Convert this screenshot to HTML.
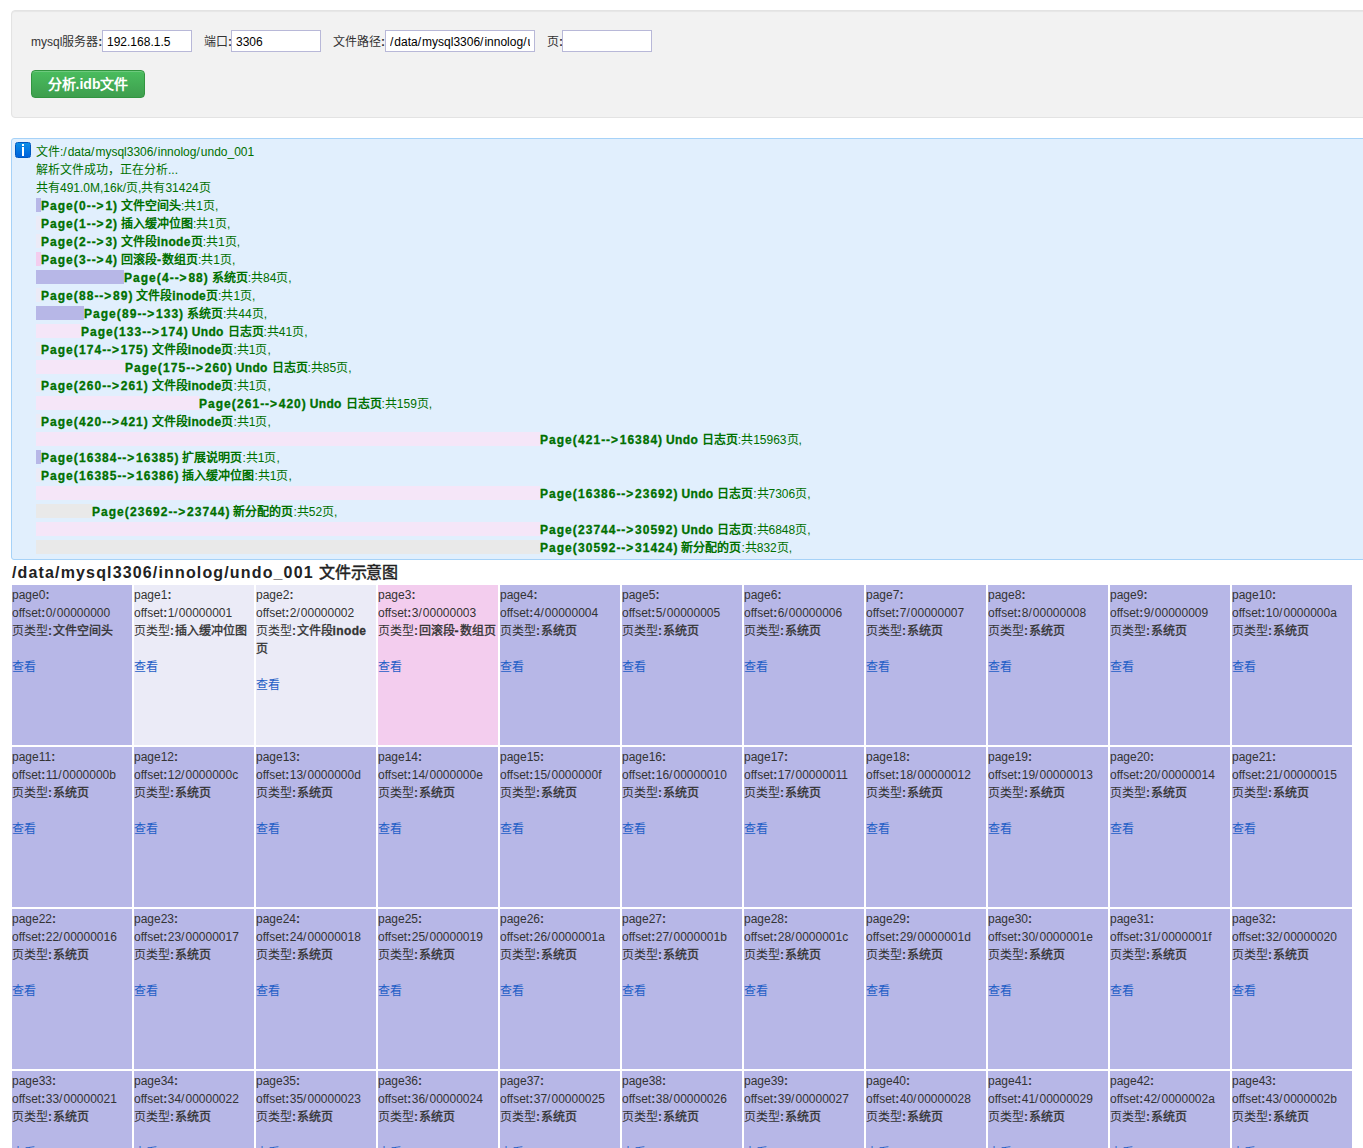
<!DOCTYPE html>
<html lang="zh-CN"><head><meta charset="utf-8"><title>idb</title>
<style>
*{box-sizing:border-box}
html,body{margin:0;padding:0}
body{width:1363px;height:1148px;overflow:hidden;position:relative;background:#fff;
 font-family:"Liberation Sans",sans-serif;font-size:12px;color:#333}
.well{position:absolute;left:11px;top:10px;width:1400px;height:108px;background:#f2f2f2;
 border:1px solid #e3e3e3;border-radius:4px;box-shadow:inset 0 1px 1px rgba(0,0,0,.05)}
.lab{position:absolute;top:35px;line-height:14px;white-space:nowrap;color:#333}
.inp{position:absolute;top:30px;height:22px;background:#fff;border:1px solid #b8b8d8;
 padding:1px 4px 0;line-height:20px;font-size:12px;color:#000;white-space:nowrap;overflow:hidden}
.btn{position:absolute;left:31px;top:70px;width:114px;height:28px;border-radius:4px;
 background:linear-gradient(#4abd5e,#3e9e4e);border:1px solid #329540;color:#fff;font-weight:bold;
 font-size:14px;line-height:26px;text-align:center;box-shadow:inset 0 1px 0 rgba(255,255,255,.2)}
.info{position:absolute;left:11px;top:138px;width:1400px;height:422px;background:#e1effd;
 border:1px solid #a6d2f8;border-radius:3px;color:#007000}
.icon{position:absolute;left:3px;top:3px;width:16px;height:16px;border-radius:2.5px;
 background:linear-gradient(#0b8ee6,#0062dc);border:1px solid #0058c0}
.icon:before{content:"";position:absolute;left:6px;top:1px;width:2px;height:2px;background:#fff}
.icon:after{content:"";position:absolute;left:6px;top:4px;width:2px;height:9px;background:#fff}
.txt{position:absolute;left:24px;top:4px;white-space:nowrap}
.l,.t{height:18px;line-height:18px}
.l i{display:inline-block;height:14px;vertical-align:top;margin-top:1px}
b{font-weight:700}
.n,.p,.pc,.h,.g,.a,.u,.sp{font-weight:700;-webkit-text-stroke:.3px}
.n{letter-spacing:1px}.p{letter-spacing:1.4px}.h{letter-spacing:.9px}.g{letter-spacing:1.8px}.t s,.inp s{text-decoration:none;letter-spacing:1px}
.a{letter-spacing:1px}.u{letter-spacing:.35px}.pc{letter-spacing:.3px}.sp{letter-spacing:.3px}
h3 .w{letter-spacing:1.15px}
h3 .hz{font-weight:400;-webkit-text-stroke:.45px;letter-spacing:-.3px}
h3{position:absolute;left:12px;top:560px;margin:0;font-size:16px;line-height:25px;font-weight:bold;color:#222;white-space:nowrap}
.c{position:absolute;width:120px;height:160px;padding-top:1px;line-height:18px;white-space:nowrap;color:#333;overflow:hidden}
.c s{text-decoration:none;letter-spacing:1px}.lab .k{text-decoration:none;font-weight:700}.c .k{letter-spacing:.6px;font-weight:700}
.c b{font-weight:400;-webkit-text-stroke:.35px}
.c a{color:#1e5ec6}
</style></head><body>
<div class="well"></div>
<div class="lab" style="left:31px">mysql服务器<s class="k">:</s></div>
<div class="inp" style="left:102px;width:90px">192.168.1.5</div>
<div class="lab" style="left:204px">端口<s class="k">:</s></div>
<div class="inp" style="left:231px;width:90px">3306</div>
<div class="lab" style="left:333px">文件路径<s class="k">:</s></div>
<div class="inp" style="left:385px;width:150px"><div style="width:140px;overflow:hidden"><s>/</s>data<s>/</s>mysql3306<s>/</s>innolog<s>/</s>undo_001</div></div>
<div class="lab" style="left:547px">页<s class="k">:</s></div>
<div class="inp" style="left:562px;width:90px"></div>
<div class="btn">分析.idb文件</div>
<div class="info"><div class="icon"></div><div class="txt">
<div class="t">文件:<s>/</s>data<s>/</s>mysql3306<s>/</s>innolog<s>/</s>undo_001</div>
<div class="t">解析文件成功，正在分析...</div>
<div class="t">共有491.0M,16k/页,共有31424页</div>
<div class="l"><i style="width:5px;background:#b7b7e7"></i><b><span class="a">Page</span><span class="p">(</span><span class="n">0</span><span class="h">--</span><span class="g">&gt;</span><span class="n">1</span><span class="pc">)</span><span class="sp"> </span>文件空间头</b>:共1页,</div><div class="l"><i style="width:5px;background:#ebebf7"></i><b><span class="a">Page</span><span class="p">(</span><span class="n">1</span><span class="h">--</span><span class="g">&gt;</span><span class="n">2</span><span class="pc">)</span><span class="sp"> </span>插入缓冲位图</b>:共1页,</div><div class="l"><i style="width:5px;background:#ebebf7"></i><b><span class="a">Page</span><span class="p">(</span><span class="n">2</span><span class="h">--</span><span class="g">&gt;</span><span class="n">3</span><span class="pc">)</span><span class="sp"> </span>文件段<span class="u">inode</span>页</b>:共1页,</div><div class="l"><i style="width:5px;background:#f3cdee"></i><b><span class="a">Page</span><span class="p">(</span><span class="n">3</span><span class="h">--</span><span class="g">&gt;</span><span class="n">4</span><span class="pc">)</span><span class="sp"> </span>回滚段<span class="h">-</span>数组页</b>:共1页,</div><div class="l"><i style="width:88px;background:#b7b7e7"></i><b><span class="a">Page</span><span class="p">(</span><span class="n">4</span><span class="h">--</span><span class="g">&gt;</span><span class="n">88</span><span class="pc">)</span><span class="sp"> </span>系统页</b>:共84页,</div><div class="l"><i style="width:5px;background:#ebebf7"></i><b><span class="a">Page</span><span class="p">(</span><span class="n">88</span><span class="h">--</span><span class="g">&gt;</span><span class="n">89</span><span class="pc">)</span><span class="sp"> </span>文件段<span class="u">inode</span>页</b>:共1页,</div><div class="l"><i style="width:48px;background:#b7b7e7"></i><b><span class="a">Page</span><span class="p">(</span><span class="n">89</span><span class="h">--</span><span class="g">&gt;</span><span class="n">133</span><span class="pc">)</span><span class="sp"> </span>系统页</b>:共44页,</div><div class="l"><i style="width:45px;background:#f5e6f8"></i><b><span class="a">Page</span><span class="p">(</span><span class="n">133</span><span class="h">--</span><span class="g">&gt;</span><span class="n">174</span><span class="pc">)</span><span class="u"> Undo </span>日志页</b>:共41页,</div><div class="l"><i style="width:5px;background:#ebebf7"></i><b><span class="a">Page</span><span class="p">(</span><span class="n">174</span><span class="h">--</span><span class="g">&gt;</span><span class="n">175</span><span class="pc">)</span><span class="sp"> </span>文件段<span class="u">inode</span>页</b>:共1页,</div><div class="l"><i style="width:89px;background:#f5e6f8"></i><b><span class="a">Page</span><span class="p">(</span><span class="n">175</span><span class="h">--</span><span class="g">&gt;</span><span class="n">260</span><span class="pc">)</span><span class="u"> Undo </span>日志页</b>:共85页,</div><div class="l"><i style="width:5px;background:#ebebf7"></i><b><span class="a">Page</span><span class="p">(</span><span class="n">260</span><span class="h">--</span><span class="g">&gt;</span><span class="n">261</span><span class="pc">)</span><span class="sp"> </span>文件段<span class="u">inode</span>页</b>:共1页,</div><div class="l"><i style="width:163px;background:#f5e6f8"></i><b><span class="a">Page</span><span class="p">(</span><span class="n">261</span><span class="h">--</span><span class="g">&gt;</span><span class="n">420</span><span class="pc">)</span><span class="u"> Undo </span>日志页</b>:共159页,</div><div class="l"><i style="width:5px;background:#ebebf7"></i><b><span class="a">Page</span><span class="p">(</span><span class="n">420</span><span class="h">--</span><span class="g">&gt;</span><span class="n">421</span><span class="pc">)</span><span class="sp"> </span>文件段<span class="u">inode</span>页</b>:共1页,</div><div class="l"><i style="width:504px;background:#f5e6f8"></i><b><span class="a">Page</span><span class="p">(</span><span class="n">421</span><span class="h">--</span><span class="g">&gt;</span><span class="n">16384</span><span class="pc">)</span><span class="u"> Undo </span>日志页</b>:共15963页,</div><div class="l"><i style="width:5px;background:#b7b7e7"></i><b><span class="a">Page</span><span class="p">(</span><span class="n">16384</span><span class="h">--</span><span class="g">&gt;</span><span class="n">16385</span><span class="pc">)</span><span class="sp"> </span>扩展说明页</b>:共1页,</div><div class="l"><i style="width:5px;background:#ebebf7"></i><b><span class="a">Page</span><span class="p">(</span><span class="n">16385</span><span class="h">--</span><span class="g">&gt;</span><span class="n">16386</span><span class="pc">)</span><span class="sp"> </span>插入缓冲位图</b>:共1页,</div><div class="l"><i style="width:504px;background:#f5e6f8"></i><b><span class="a">Page</span><span class="p">(</span><span class="n">16386</span><span class="h">--</span><span class="g">&gt;</span><span class="n">23692</span><span class="pc">)</span><span class="u"> Undo </span>日志页</b>:共7306页,</div><div class="l"><i style="width:56px;background:#e9e9e9"></i><b><span class="a">Page</span><span class="p">(</span><span class="n">23692</span><span class="h">--</span><span class="g">&gt;</span><span class="n">23744</span><span class="pc">)</span><span class="sp"> </span>新分配的页</b>:共52页,</div><div class="l"><i style="width:504px;background:#f5e6f8"></i><b><span class="a">Page</span><span class="p">(</span><span class="n">23744</span><span class="h">--</span><span class="g">&gt;</span><span class="n">30592</span><span class="pc">)</span><span class="u"> Undo </span>日志页</b>:共6848页,</div><div class="l"><i style="width:504px;background:#e9e9e9"></i><b><span class="a">Page</span><span class="p">(</span><span class="n">30592</span><span class="h">--</span><span class="g">&gt;</span><span class="n">31424</span><span class="pc">)</span><span class="sp"> </span>新分配的页</b>:共832页,</div>
</div></div>
<h3><span class="w">/data/mysql3306/innolog/undo_001 </span><span class="hz">文件示意图</span></h3>
<div class="c" style="left:12px;top:585px;background:#b7b7e7">page0<s class="k">:</s><br>offset<s class="k">:</s>0<s>/</s>00000000<br>页类型<s class="k">:</s><b>文件空间头</b><br><br><a>查看</a></div><div class="c" style="left:134px;top:585px;background:#ebebf7">page1<s class="k">:</s><br>offset<s class="k">:</s>1<s>/</s>00000001<br>页类型<s class="k">:</s><b>插入缓冲位图</b><br><br><a>查看</a></div><div class="c" style="left:256px;top:585px;background:#ebebf7">page2<s class="k">:</s><br>offset<s class="k">:</s>2<s>/</s>00000002<br>页类型<s class="k">:</s><b>文件段<span class="u">inode</span><br>页</b><br><br><a>查看</a></div><div class="c" style="left:378px;top:585px;background:#f3cdee">page3<s class="k">:</s><br>offset<s class="k">:</s>3<s>/</s>00000003<br>页类型<s class="k">:</s><b>回滚段<span class="h">-</span>数组页</b><br><br><a>查看</a></div><div class="c" style="left:500px;top:585px;background:#b7b7e7">page4<s class="k">:</s><br>offset<s class="k">:</s>4<s>/</s>00000004<br>页类型<s class="k">:</s><b>系统页</b><br><br><a>查看</a></div><div class="c" style="left:622px;top:585px;background:#b7b7e7">page5<s class="k">:</s><br>offset<s class="k">:</s>5<s>/</s>00000005<br>页类型<s class="k">:</s><b>系统页</b><br><br><a>查看</a></div><div class="c" style="left:744px;top:585px;background:#b7b7e7">page6<s class="k">:</s><br>offset<s class="k">:</s>6<s>/</s>00000006<br>页类型<s class="k">:</s><b>系统页</b><br><br><a>查看</a></div><div class="c" style="left:866px;top:585px;background:#b7b7e7">page7<s class="k">:</s><br>offset<s class="k">:</s>7<s>/</s>00000007<br>页类型<s class="k">:</s><b>系统页</b><br><br><a>查看</a></div><div class="c" style="left:988px;top:585px;background:#b7b7e7">page8<s class="k">:</s><br>offset<s class="k">:</s>8<s>/</s>00000008<br>页类型<s class="k">:</s><b>系统页</b><br><br><a>查看</a></div><div class="c" style="left:1110px;top:585px;background:#b7b7e7">page9<s class="k">:</s><br>offset<s class="k">:</s>9<s>/</s>00000009<br>页类型<s class="k">:</s><b>系统页</b><br><br><a>查看</a></div><div class="c" style="left:1232px;top:585px;background:#b7b7e7">page10<s class="k">:</s><br>offset<s class="k">:</s>10<s>/</s>0000000a<br>页类型<s class="k">:</s><b>系统页</b><br><br><a>查看</a></div><div class="c" style="left:12px;top:747px;background:#b7b7e7">page11<s class="k">:</s><br>offset<s class="k">:</s>11<s>/</s>0000000b<br>页类型<s class="k">:</s><b>系统页</b><br><br><a>查看</a></div><div class="c" style="left:134px;top:747px;background:#b7b7e7">page12<s class="k">:</s><br>offset<s class="k">:</s>12<s>/</s>0000000c<br>页类型<s class="k">:</s><b>系统页</b><br><br><a>查看</a></div><div class="c" style="left:256px;top:747px;background:#b7b7e7">page13<s class="k">:</s><br>offset<s class="k">:</s>13<s>/</s>0000000d<br>页类型<s class="k">:</s><b>系统页</b><br><br><a>查看</a></div><div class="c" style="left:378px;top:747px;background:#b7b7e7">page14<s class="k">:</s><br>offset<s class="k">:</s>14<s>/</s>0000000e<br>页类型<s class="k">:</s><b>系统页</b><br><br><a>查看</a></div><div class="c" style="left:500px;top:747px;background:#b7b7e7">page15<s class="k">:</s><br>offset<s class="k">:</s>15<s>/</s>0000000f<br>页类型<s class="k">:</s><b>系统页</b><br><br><a>查看</a></div><div class="c" style="left:622px;top:747px;background:#b7b7e7">page16<s class="k">:</s><br>offset<s class="k">:</s>16<s>/</s>00000010<br>页类型<s class="k">:</s><b>系统页</b><br><br><a>查看</a></div><div class="c" style="left:744px;top:747px;background:#b7b7e7">page17<s class="k">:</s><br>offset<s class="k">:</s>17<s>/</s>00000011<br>页类型<s class="k">:</s><b>系统页</b><br><br><a>查看</a></div><div class="c" style="left:866px;top:747px;background:#b7b7e7">page18<s class="k">:</s><br>offset<s class="k">:</s>18<s>/</s>00000012<br>页类型<s class="k">:</s><b>系统页</b><br><br><a>查看</a></div><div class="c" style="left:988px;top:747px;background:#b7b7e7">page19<s class="k">:</s><br>offset<s class="k">:</s>19<s>/</s>00000013<br>页类型<s class="k">:</s><b>系统页</b><br><br><a>查看</a></div><div class="c" style="left:1110px;top:747px;background:#b7b7e7">page20<s class="k">:</s><br>offset<s class="k">:</s>20<s>/</s>00000014<br>页类型<s class="k">:</s><b>系统页</b><br><br><a>查看</a></div><div class="c" style="left:1232px;top:747px;background:#b7b7e7">page21<s class="k">:</s><br>offset<s class="k">:</s>21<s>/</s>00000015<br>页类型<s class="k">:</s><b>系统页</b><br><br><a>查看</a></div><div class="c" style="left:12px;top:909px;background:#b7b7e7">page22<s class="k">:</s><br>offset<s class="k">:</s>22<s>/</s>00000016<br>页类型<s class="k">:</s><b>系统页</b><br><br><a>查看</a></div><div class="c" style="left:134px;top:909px;background:#b7b7e7">page23<s class="k">:</s><br>offset<s class="k">:</s>23<s>/</s>00000017<br>页类型<s class="k">:</s><b>系统页</b><br><br><a>查看</a></div><div class="c" style="left:256px;top:909px;background:#b7b7e7">page24<s class="k">:</s><br>offset<s class="k">:</s>24<s>/</s>00000018<br>页类型<s class="k">:</s><b>系统页</b><br><br><a>查看</a></div><div class="c" style="left:378px;top:909px;background:#b7b7e7">page25<s class="k">:</s><br>offset<s class="k">:</s>25<s>/</s>00000019<br>页类型<s class="k">:</s><b>系统页</b><br><br><a>查看</a></div><div class="c" style="left:500px;top:909px;background:#b7b7e7">page26<s class="k">:</s><br>offset<s class="k">:</s>26<s>/</s>0000001a<br>页类型<s class="k">:</s><b>系统页</b><br><br><a>查看</a></div><div class="c" style="left:622px;top:909px;background:#b7b7e7">page27<s class="k">:</s><br>offset<s class="k">:</s>27<s>/</s>0000001b<br>页类型<s class="k">:</s><b>系统页</b><br><br><a>查看</a></div><div class="c" style="left:744px;top:909px;background:#b7b7e7">page28<s class="k">:</s><br>offset<s class="k">:</s>28<s>/</s>0000001c<br>页类型<s class="k">:</s><b>系统页</b><br><br><a>查看</a></div><div class="c" style="left:866px;top:909px;background:#b7b7e7">page29<s class="k">:</s><br>offset<s class="k">:</s>29<s>/</s>0000001d<br>页类型<s class="k">:</s><b>系统页</b><br><br><a>查看</a></div><div class="c" style="left:988px;top:909px;background:#b7b7e7">page30<s class="k">:</s><br>offset<s class="k">:</s>30<s>/</s>0000001e<br>页类型<s class="k">:</s><b>系统页</b><br><br><a>查看</a></div><div class="c" style="left:1110px;top:909px;background:#b7b7e7">page31<s class="k">:</s><br>offset<s class="k">:</s>31<s>/</s>0000001f<br>页类型<s class="k">:</s><b>系统页</b><br><br><a>查看</a></div><div class="c" style="left:1232px;top:909px;background:#b7b7e7">page32<s class="k">:</s><br>offset<s class="k">:</s>32<s>/</s>00000020<br>页类型<s class="k">:</s><b>系统页</b><br><br><a>查看</a></div><div class="c" style="left:12px;top:1071px;background:#b7b7e7">page33<s class="k">:</s><br>offset<s class="k">:</s>33<s>/</s>00000021<br>页类型<s class="k">:</s><b>系统页</b><br><br><a>查看</a></div><div class="c" style="left:134px;top:1071px;background:#b7b7e7">page34<s class="k">:</s><br>offset<s class="k">:</s>34<s>/</s>00000022<br>页类型<s class="k">:</s><b>系统页</b><br><br><a>查看</a></div><div class="c" style="left:256px;top:1071px;background:#b7b7e7">page35<s class="k">:</s><br>offset<s class="k">:</s>35<s>/</s>00000023<br>页类型<s class="k">:</s><b>系统页</b><br><br><a>查看</a></div><div class="c" style="left:378px;top:1071px;background:#b7b7e7">page36<s class="k">:</s><br>offset<s class="k">:</s>36<s>/</s>00000024<br>页类型<s class="k">:</s><b>系统页</b><br><br><a>查看</a></div><div class="c" style="left:500px;top:1071px;background:#b7b7e7">page37<s class="k">:</s><br>offset<s class="k">:</s>37<s>/</s>00000025<br>页类型<s class="k">:</s><b>系统页</b><br><br><a>查看</a></div><div class="c" style="left:622px;top:1071px;background:#b7b7e7">page38<s class="k">:</s><br>offset<s class="k">:</s>38<s>/</s>00000026<br>页类型<s class="k">:</s><b>系统页</b><br><br><a>查看</a></div><div class="c" style="left:744px;top:1071px;background:#b7b7e7">page39<s class="k">:</s><br>offset<s class="k">:</s>39<s>/</s>00000027<br>页类型<s class="k">:</s><b>系统页</b><br><br><a>查看</a></div><div class="c" style="left:866px;top:1071px;background:#b7b7e7">page40<s class="k">:</s><br>offset<s class="k">:</s>40<s>/</s>00000028<br>页类型<s class="k">:</s><b>系统页</b><br><br><a>查看</a></div><div class="c" style="left:988px;top:1071px;background:#b7b7e7">page41<s class="k">:</s><br>offset<s class="k">:</s>41<s>/</s>00000029<br>页类型<s class="k">:</s><b>系统页</b><br><br><a>查看</a></div><div class="c" style="left:1110px;top:1071px;background:#b7b7e7">page42<s class="k">:</s><br>offset<s class="k">:</s>42<s>/</s>0000002a<br>页类型<s class="k">:</s><b>系统页</b><br><br><a>查看</a></div><div class="c" style="left:1232px;top:1071px;background:#b7b7e7">page43<s class="k">:</s><br>offset<s class="k">:</s>43<s>/</s>0000002b<br>页类型<s class="k">:</s><b>系统页</b><br><br><a>查看</a></div><div class="c" style="left:12px;top:1233px;background:#b7b7e7">page44<s class="k">:</s><br>offset<s class="k">:</s>44<s>/</s>0000002c<br>页类型<s class="k">:</s><b>系统页</b><br><br><a>查看</a></div><div class="c" style="left:134px;top:1233px;background:#b7b7e7">page45<s class="k">:</s><br>offset<s class="k">:</s>45<s>/</s>0000002d<br>页类型<s class="k">:</s><b>系统页</b><br><br><a>查看</a></div><div class="c" style="left:256px;top:1233px;background:#b7b7e7">page46<s class="k">:</s><br>offset<s class="k">:</s>46<s>/</s>0000002e<br>页类型<s class="k">:</s><b>系统页</b><br><br><a>查看</a></div><div class="c" style="left:378px;top:1233px;background:#b7b7e7">page47<s class="k">:</s><br>offset<s class="k">:</s>47<s>/</s>0000002f<br>页类型<s class="k">:</s><b>系统页</b><br><br><a>查看</a></div><div class="c" style="left:500px;top:1233px;background:#b7b7e7">page48<s class="k">:</s><br>offset<s class="k">:</s>48<s>/</s>00000030<br>页类型<s class="k">:</s><b>系统页</b><br><br><a>查看</a></div><div class="c" style="left:622px;top:1233px;background:#b7b7e7">page49<s class="k">:</s><br>offset<s class="k">:</s>49<s>/</s>00000031<br>页类型<s class="k">:</s><b>系统页</b><br><br><a>查看</a></div><div class="c" style="left:744px;top:1233px;background:#b7b7e7">page50<s class="k">:</s><br>offset<s class="k">:</s>50<s>/</s>00000032<br>页类型<s class="k">:</s><b>系统页</b><br><br><a>查看</a></div><div class="c" style="left:866px;top:1233px;background:#b7b7e7">page51<s class="k">:</s><br>offset<s class="k">:</s>51<s>/</s>00000033<br>页类型<s class="k">:</s><b>系统页</b><br><br><a>查看</a></div><div class="c" style="left:988px;top:1233px;background:#b7b7e7">page52<s class="k">:</s><br>offset<s class="k">:</s>52<s>/</s>00000034<br>页类型<s class="k">:</s><b>系统页</b><br><br><a>查看</a></div><div class="c" style="left:1110px;top:1233px;background:#b7b7e7">page53<s class="k">:</s><br>offset<s class="k">:</s>53<s>/</s>00000035<br>页类型<s class="k">:</s><b>系统页</b><br><br><a>查看</a></div><div class="c" style="left:1232px;top:1233px;background:#b7b7e7">page54<s class="k">:</s><br>offset<s class="k">:</s>54<s>/</s>00000036<br>页类型<s class="k">:</s><b>系统页</b><br><br><a>查看</a></div>
</body></html>
